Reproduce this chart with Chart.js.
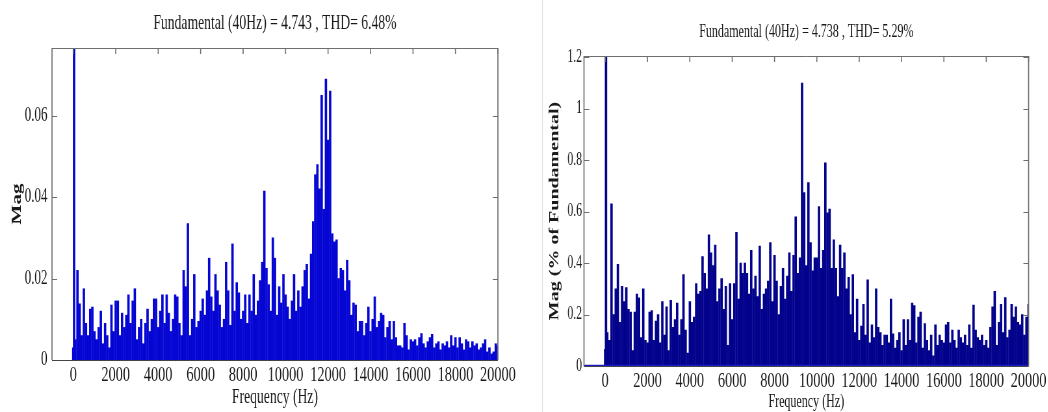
<!DOCTYPE html>
<html>
<head>
<meta charset="utf-8">
<script src="https://cdn.jsdelivr.net/npm/chart.js@4.4.1/dist/chart.umd.min.js"></script>
<style>
  html, body { margin: 0; padding: 0; background: #fff; }
  body { width: 1048px; height: 412px; position: relative; overflow: hidden; }
  .panel { position: absolute; top: 0; height: 412px; overflow: hidden; }
  .inner { height: 412px; transform: scaleX(0.65); transform-origin: 0 0; }
  #divider { position: absolute; left: 542px; top: 0; width: 1px; height: 412px; background: #e2e2e2; }
</style>
</head>
<body>
<div class="panel" style="left:0;width:540px"><div class="inner" style="width:831px"><canvas id="left_chart" width="831" height="412"></canvas></div></div>
<div id="divider"></div>
<div class="panel" style="left:544px;width:504px"><div class="inner" style="width:775px"><canvas id="right_chart" width="775" height="412"></canvas></div></div>
<script>
// data
const freqHz = [0, 40,
  100, 200, 300, 400, 500, 600, 700, 800, 900, 1000,
  1100, 1200, 1300, 1400, 1500, 1600, 1700, 1800, 1900, 2000,
  2100, 2200, 2300, 2400, 2500, 2600, 2700, 2800, 2900, 3000,
  3100, 3200, 3300, 3400, 3500, 3600, 3700, 3800, 3900, 4000,
  4100, 4200, 4300, 4400, 4500, 4600, 4700, 4800, 4900, 5000,
  5100, 5200, 5300, 5400, 5500, 5600, 5700, 5800, 5900, 6000,
  6100, 6200, 6300, 6400, 6500, 6600, 6700, 6800, 6900, 7000,
  7100, 7200, 7300, 7400, 7500, 7600, 7700, 7800, 7900, 8000,
  8100, 8200, 8300, 8400, 8500, 8600, 8700, 8800, 8900, 9000,
  9100, 9200, 9300, 9400, 9500, 9600, 9700, 9800, 9900, 10000,
  10100, 10200, 10300, 10400, 10500, 10600, 10700, 10800, 10900, 11000,
  11100, 11200, 11300, 11400, 11500, 11600, 11700, 11800, 11900, 12000,
  12100, 12200, 12300, 12400, 12500, 12600, 12700, 12800, 12900, 13000,
  13100, 13200, 13300, 13400, 13500, 13600, 13700, 13800, 13900, 14000,
  14100, 14200, 14300, 14400, 14500, 14600, 14700, 14800, 14900, 15000,
  15100, 15200, 15300, 15400, 15500, 15600, 15700, 15800, 15900, 16000,
  16100, 16200, 16300, 16400, 16500, 16600, 16700, 16800, 16900, 17000,
  17100, 17200, 17300, 17400, 17500, 17600, 17700, 17800, 17900, 18000,
  18100, 18200, 18300, 18400, 18500, 18600, 18700, 18800, 18900, 19000,
  19100, 19200, 19300, 19400, 19500, 19600, 19700, 19800, 19900, 20000];

// left: absolute magnitude (fundamental 4.743 is off scale)
const magLeft = [0.003, 4.743,
  .005, .022, .0138, .006, .0175, .009, .006, .0125, .013, .007,
  .005, .008, .012, .004, .009, .006, .003, .0135, .007, .0145,
  .0145, .006, .0115, .008, .011, .016, .009, .0145, .0175, .005,
  .008, .010, .004, .009, .0125, .007, .010, .015, .015, .008,
  .012, .016, .009, .016, .0115, .007, .010, .016, .0155, .009,
  .006, .022, .018, .0335, .006, .010, .021, .008, .0095, .012,
  .015, .011, .017, .025, .0155, .012, .021, .017, .0135, .008,
  .010, .024, .017, .0085, .0285, .012, .019, .0165, .010, .012,
  .016, .009, .016, .012, .021, .011, .0145, .0195, .024, .0415,
  .0225, .0185, .012, .030, .025, .011, .018, .014, .021, .016,
  .013, .010, .0145, .021, .012, .017, .013, .018, .022, .0235,
  .015, .026, .034, .0455, .048, .042, .065, .037, .069, .054,
  .066, .031, .029, .0295, .020, .0225, .022, .017, .0245, .0195,
  .011, .014, .0135, .007, .0095, .0095, .006, .009, .013, .007,
  .010, .0155, .008, .0095, .0115, .011, .0055, .008, .0095, .005,
  .0095, .0055, .0035, .0035, .003, .009, .006, .0025, .005, .0045,
  .005, .0035, .0055, .0065, .004, .003, .0045, .0055, .0063, .003,
  .004, .0045, .0025, .004, .0035, .0045, .003, .006, .0035, .0055,
  .003, .0055, .004, .0025, .005, .0045, .003, .0045, .0035, .004,
  .0025, .003, .004, .005, .002, .003, .0015, .002, .004, .0035];

// right: % of fundamental (fundamental = 100, off scale)
const magRight = [0.065, 100,
  .13, .10, .63, .20, .30, .395, .17, .31, .25, .305,
  .22, .21, .06, .21, .28, .265, .11, .30, .10, .09,
  .21, .215, .10, .175, .20, .09, .25, .12, .23, .06,
  .255, .15, .18, .245, .12, .18, .355, .14, .05, .25,
  .17, .19, .32, .28, .29, .425, .36, .30, .51, .44,
  .39, .47, .25, .30, .34, .22, .31, .08, .32, .18,
  .32, .52, .26, .40, .36, .40, .36, .28, .45, .30,
  .35, .27, .466, .22, .28, .30, .33, .48, .25, .43,
  .33, .20, .31, .38, .26, .35, .44, .29, .43, .58,
  .36, .42, 1.10, .674, .39, .713, .48, .37, .42, .42,
  .62, .38, .45, .79, .595, .61, .38, .49, .38, .27,
  .47, .38, .44, .30, .345, .20, .355, .13, .26, .10,
  .155, .24, .12, .335, .09, .16, .11, .30, .15, .13,
  .08, .12, .12, .09, .26, .125, .07, .10, .13, .06,
  .18, .08, .18, .10, .245, .235, .09, .19, .21, .07,
  .165, .10, .06, .12, .04, .16, .08, .12, .10, .09,
  .16, .17, .09, .14, .10, .07, .14, .11, .09, .12,
  .08, .16, .07, .237, .14, .11, .10, .12, .08, .10,
  .07, .15, .23, .29, .08, .17, .24, .13, .266, .11,
  .14, .24, .19, .23, .17, .16, .20, .12, .19, .24];

const xTicks       = [0, 2000, 4000, 6000, 8000, 10000, 12000, 14000, 16000, 18000, 20000];
const yTicksLeft   = [0, 0.02, 0.04, 0.06];
const yTicksRight  = [0, 0.2, 0.4, 0.6, 0.8, 1, 1.2];
const titleLeft    = 'Fundamental (40Hz) = 4.743 , THD= 6.48%';
const titleRight   = 'Fundamental (40Hz) = 4.738 , THD= 5.29%';
const xMin = -1000, xMax = 20000;

const serif = "'Liberation Serif', 'Times New Roman', serif";
const textColor = '#1a1a1a';

// box, inward ticks and the title, MATLAB style
const framePlugin = {
    id: 'frame',
    afterDraw(chart, args, opts) {
        const ctx = chart.ctx;
        const a = chart.chartArea;
        const xs = chart.scales.x, ys = chart.scales.y;
        ctx.save();
        ctx.strokeStyle = '#6e6e6e';
        // ticks
        ctx.lineWidth = 1.6;
        xTicks.forEach(v => {
            const px = xs.getPixelForValue(v);
            ctx.beginPath(); ctx.moveTo(px, a.top); ctx.lineTo(px, a.top + 6); ctx.stroke();
        });
        ctx.lineWidth = 1;
        opts.yTicks.forEach(v => {
            const py = Math.round(ys.getPixelForValue(v)) + 0.5;
            ctx.beginPath(); ctx.moveTo(a.left, py); ctx.lineTo(a.left + 8, py); ctx.stroke();
            ctx.beginPath(); ctx.moveTo(a.right, py); ctx.lineTo(a.right - 8, py); ctx.stroke();
        });
        // box
        ctx.lineWidth = 1;
        ctx.beginPath();
        ctx.moveTo(a.left, Math.round(a.top) + 0.5); ctx.lineTo(a.right, Math.round(a.top) + 0.5);
        ctx.stroke();
        ctx.strokeStyle = '#444';
        ctx.beginPath();
        ctx.moveTo(a.left, Math.round(a.bottom) + 0.5); ctx.lineTo(a.right, Math.round(a.bottom) + 0.5);
        ctx.stroke();
        ctx.strokeStyle = '#6e6e6e';
        ctx.lineWidth = 1.7;
        ctx.beginPath();
        ctx.moveTo(a.left, a.top); ctx.lineTo(a.left, a.bottom);
        ctx.moveTo(a.right, a.top); ctx.lineTo(a.right, a.bottom);
        ctx.stroke();
        // title
        ctx.fillStyle = textColor;
        ctx.font = opts.titleSize + 'px ' + serif;
        ctx.textAlign = 'center';
        ctx.textBaseline = 'middle';
        ctx.fillText(opts.title, (a.left + a.right) / 2, opts.titleY);
        ctx.restore();
    }
};

const makeSpectrum = (canvas, cfg) => new Chart(canvas, {
    type: 'bar',
    data: {
        datasets: [{
            type: 'bar',
            data: freqHz.map((f, i) => ({x: f, y: cfg.values[i]})),
            backgroundColor: cfg.barColor,
            borderWidth: 0,
            barThickness: 3,
            grouped: false,
            order: 2
        }].concat(cfg.baseline ? [{
            type: 'line',
            data: [{x: xMin, y: 0}, {x: xMax, y: 0}],
            borderColor: cfg.baseline,
            borderWidth: 2.5,
            pointRadius: 0,
            order: 1
        }] : [])
    },
    options: {
        responsive: false,
        animation: false,
        events: [],
        layout: {padding: {left: 0, top: cfg.top, right: cfg.padRight, bottom: 0}},
        plugins: {
            legend: {display: false},
            tooltip: {enabled: false},
            frame: {yTicks: cfg.yTicks, title: cfg.title, titleY: cfg.titleY, titleSize: cfg.titleSize}
        },
        scales: {
            x: {
                type: 'linear',
                min: xMin,
                max: xMax,
                offset: false,
                grid: {display: false, drawTicks: false},
                border: {display: false},
                afterBuildTicks: s => { s.ticks = xTicks.map(v => ({value: v})); },
                afterFit: s => { s.height = cfg.xHeight; },
                ticks: {
                    font: {family: serif, size: 22},
                    color: textColor,
                    padding: 2,
                    maxRotation: 0,
                    autoSkip: false,
                    callback: v => String(v)
                },
                title: {
                    display: true,
                    text: 'Frequency (Hz)',
                    font: {family: serif, size: cfg.xTitleSize, lineHeight: 1},
                    color: textColor,
                    padding: {top: 0, bottom: cfg.xTitlePad}
                }
            },
            y: {
                min: 0,
                max: cfg.yMax,
                grid: {display: false, drawTicks: false},
                border: {display: false},
                afterBuildTicks: s => { s.ticks = cfg.yTicks.map(v => ({value: v})); },
                afterFit: s => { s.width = cfg.yWidth; },
                ticks: {
                    font: {family: serif, size: cfg.yTickSize},
                    color: textColor,
                    padding: cfg.yTickPad,
                    callback: v => String(v)
                },
                title: {
                    display: true,
                    text: cfg.yTitle,
                    font: {family: serif, size: cfg.yTitleSize, weight: 'bold', lineHeight: 1.2},
                    color: textColor,
                    padding: {top: cfg.yTitlePad, bottom: 0}
                }
            }
        }
    },
    plugins: [framePlugin]
});

var left_chart_ref = makeSpectrum(document.getElementById('left_chart'), {
    values: magLeft,
    barColor: '#0606d4',
    yMax: 0.0766,
    yTicks: yTicksLeft,
    title: titleLeft,
    titleY: 23,
    titleSize: 21,
    top: 48,
    padRight: 65,
    xHeight: 52,
    xTitleSize: 21,
    xTitlePad: 4,
    yWidth: 80,
    yTickSize: 20,
    yTickPad: 7,
    yTitle: 'Mag',
    yTitleSize: 21,
    yTitlePad: 14
});

var right_chart_ref = makeSpectrum(document.getElementById('right_chart'), {
    values: magRight,
    barColor: '#02028c',
    baseline: '#1c1cc4',
    yMax: 1.205,
    yTicks: yTicksRight,
    title: titleRight,
    titleY: 32,
    titleSize: 18.5,
    top: 56,
    padRight: 26,
    xHeight: 46,
    xTitleSize: 18.5,
    xTitlePad: 1,
    yWidth: 61.5,
    yTickSize: 18,
    yTickPad: 3,
    yTitle: 'Mag (% of Fundamental)',
    yTitleSize: 20,
    yTitlePad: 5
});
</script>
</body>
</html>
